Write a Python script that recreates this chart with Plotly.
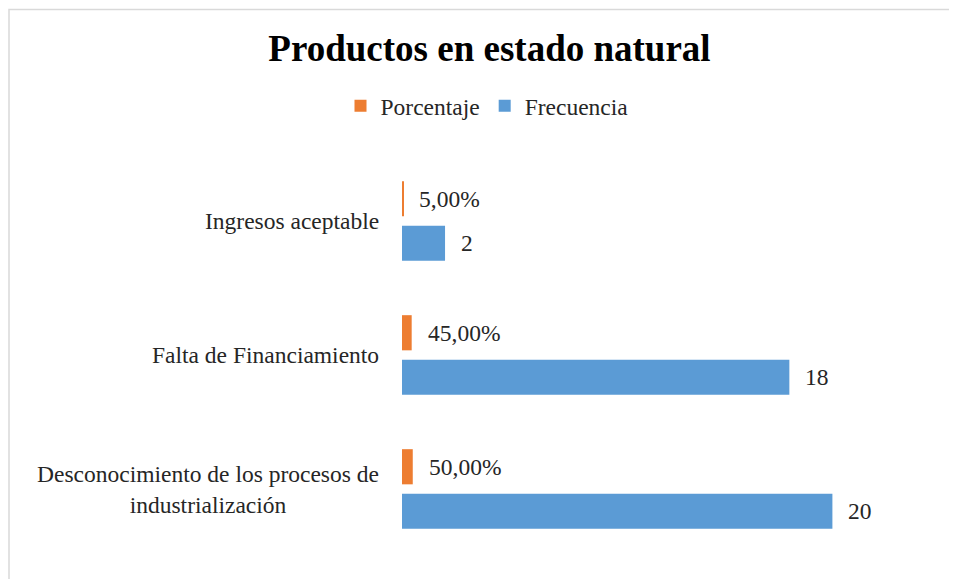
import plotly.graph_objects as go

categories = ["Desconocimiento de los procesos de<br>industrialización",
              "Falta de Financiamiento",
              "Ingresos aceptable"]
frecuencia = [20, 18, 2]
porcentaje = [0.50, 0.45, 0.05]
porcentaje_labels = ["50,00%", "45,00%", "5,00%"]
frecuencia_labels = ["20", "18", "2"]

ORANGE = "#ED7D31"
BLUE = "#5B9BD5"
FONT = "Liberation Serif"
TXT = "#262626"
FS = 23.5

W, H = 957, 579
OFF = 8  # page body margin
# plot area in reference pixel coordinates
PL, PR, PT, PB = 402, 940, 154, 556
L, T = PL - OFF, PT - OFF
R, B = W - (PR - OFF), H - (PB - OFF)

fig = go.Figure()
fig.add_trace(go.Bar(y=categories, x=frecuencia, orientation="h", name="Frecuencia",
                     marker=dict(color=BLUE, line=dict(width=0))))
fig.add_trace(go.Bar(y=categories, x=porcentaje, orientation="h", name="Porcentaje",
                     marker=dict(color=ORANGE, line=dict(width=0))))

ann = []
for c, v, t in zip(categories, porcentaje, porcentaje_labels):
    ann.append(dict(x=v, y=c, xref="x", yref="y", text=t, showarrow=False,
                    xanchor="left", yanchor="middle", xshift=14, yshift=22,
                    font=dict(family=FONT, size=FS, color=TXT)))
for c, v, t in zip(categories, frecuencia, frecuencia_labels):
    ann.append(dict(x=v, y=c, xref="x", yref="y", text=t, showarrow=False,
                    xanchor="left", yanchor="middle", xshift=14, yshift=-22,
                    font=dict(family=FONT, size=FS, color=TXT)))
for c in categories:
    ann.append(dict(x=0, y=c, xref="paper", yref="y", text=c, showarrow=False,
                    xanchor="right", yanchor="middle", xshift=-21, align="center",
                    font=dict(family=FONT, size=FS, color=TXT)))

pw = PR - PL
ph = PB - PT
def px2x(p):
    return (p - PL) / pw
def py2y(p):
    return (PB - p) / ph

fig.update_layout(
    width=W, height=H,
    margin=dict(l=L, r=R, t=T, b=B),
    paper_bgcolor="white", plot_bgcolor="white",
    barmode="group", bargap=0.336, bargroupgap=0.21,
    title=dict(text="<b>Productos en estado natural</b>", xref="container",
               x=(489.5 - OFF) / W, xanchor="center", yref="container",
               y=1 - (48 - OFF) / H, yanchor="middle",
               font=dict(family=FONT, size=37, color="black")),
    legend=dict(orientation="h", traceorder="reversed", xref="container",
                x=(487 - OFF) / W, xanchor="center", yref="container",
                y=1 - (106 - OFF) / H, yanchor="middle",
                font=dict(family=FONT, size=FS, color=TXT)),
    xaxis=dict(range=[0, 25], visible=False, showgrid=False, zeroline=False),
    yaxis=dict(showticklabels=False, showgrid=False, zeroline=False, showline=False,
               ticks=""),
    annotations=ann,
    shapes=[dict(type="rect", xref="paper", yref="paper",
                 x0=px2x(OFF + 1), x1=px2x(975), y0=py2y(600), y1=py2y(9.5),
                 line=dict(color="#D9D9D9", width=1.5), fillcolor="rgba(0,0,0,0)",
                 layer="below")],
    showlegend=True,
)

fig.write_html("out.html")
